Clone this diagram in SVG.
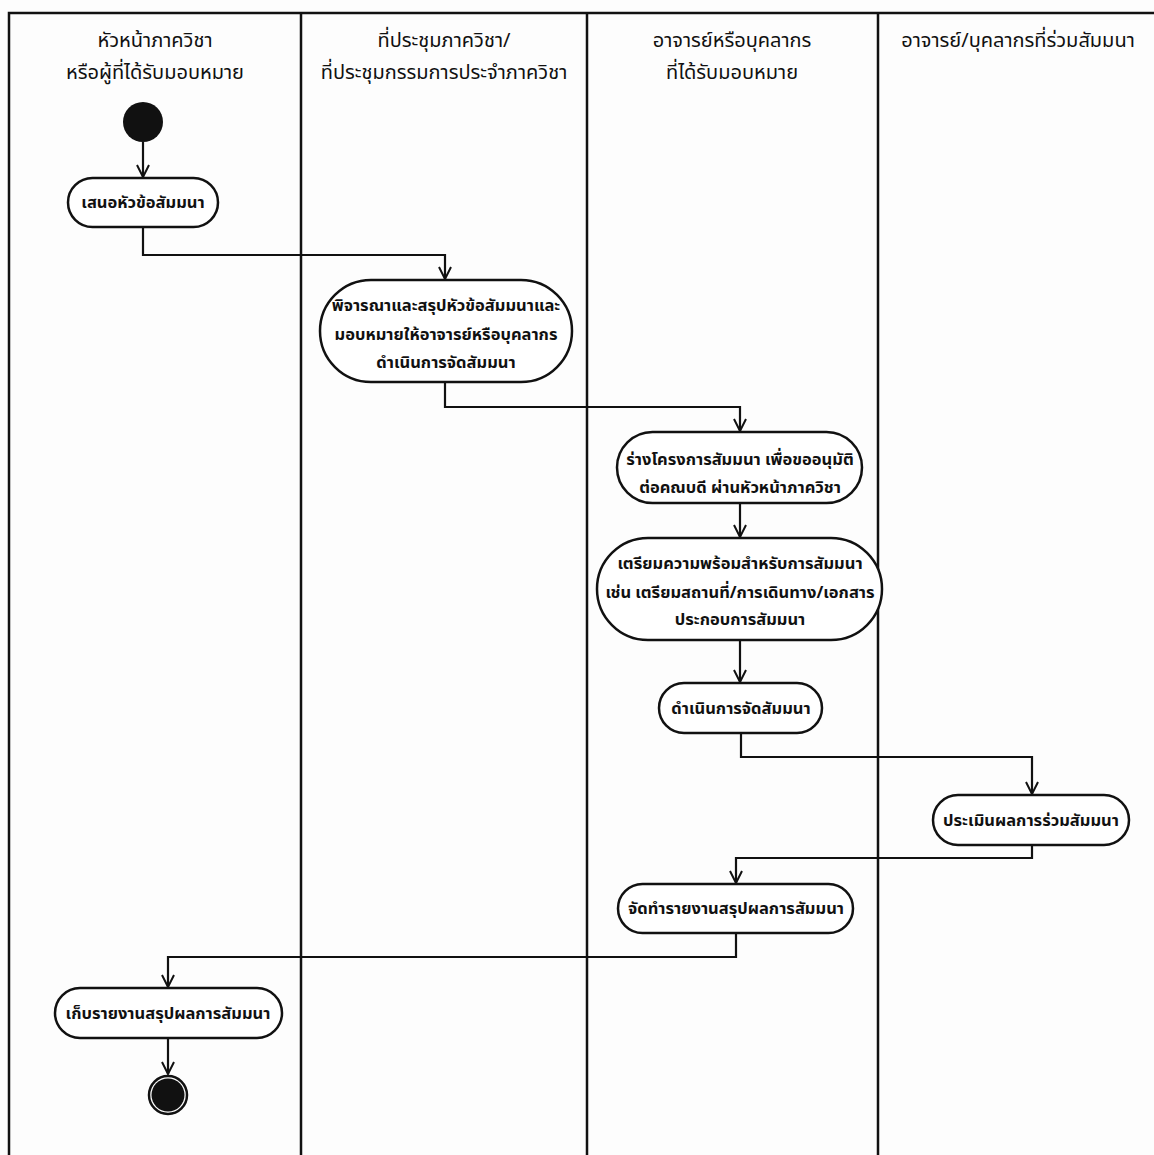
<svg xmlns="http://www.w3.org/2000/svg" width="1154" height="1155" viewBox="0 0 1154 1155">
<style>
.bg{fill:#fdfdfd}
.lane{stroke:#111;stroke-width:2.5;fill:none}
.hdr{font-family:"Noto Sans Thai","Tahoma","Noto Sans",sans-serif;font-size:20px;fill:#111;text-anchor:middle}
.node rect{fill:#fff;stroke:#111;stroke-width:2.5}
.node text{font-family:"Noto Sans Thai","Tahoma","Noto Sans",sans-serif;font-size:16.5px;font-weight:bold;fill:#111;text-anchor:middle}
.conn path{fill:none;stroke:#111;stroke-width:2.2;marker-end:url(#arr)}
</style>
<defs>
<marker id="arr" viewBox="0 0 14 14" refX="13" refY="7" markerWidth="14" markerHeight="14" markerUnits="userSpaceOnUse" orient="auto">
<path d="M1,1 L13,7 L1,13" fill="none" stroke="#111" stroke-width="2"/>
</marker>
</defs>
<rect class="bg" x="0" y="0" width="1154" height="1155"/>
<g id="lanes">
<path class="lane" d="M9,1155 V13 H1154"/>
<line class="lane" x1="301" y1="13" x2="301" y2="1155"/>
<line class="lane" x1="587" y1="13" x2="587" y2="1155"/>
<line class="lane" x1="878" y1="13" x2="878" y2="1155"/>
<text class="hdr" x="155" y="47">หัวหน้าภาควิชา</text>
<text class="hdr" x="155" y="79">หรือผู้ที่ได้รับมอบหมาย</text>
<text class="hdr" x="444" y="47">ที่ประชุมภาควิชา/</text>
<text class="hdr" x="444" y="79">ที่ประชุมกรรมการประจำภาควิชา</text>
<text class="hdr" x="732" y="47">อาจารย์หรือบุคลากร</text>
<text class="hdr" x="732" y="79">ที่ได้รับมอบหมาย</text>
<text class="hdr" x="1018" y="47">อาจารย์/บุคลากรที่ร่วมสัมมนา</text>
</g>
<g class="conn" id="connectors">
<path d="M143,142 V177"/>
<path d="M143,227 V255 H445 V279"/>
<path d="M445,382 V407 H740 V431"/>
<path d="M740,503 V537"/>
<path d="M740,640 V682"/>
<path d="M741,733 V757 H1032 V794"/>
<path d="M1032,845 V858 H736 V883"/>
<path d="M736,933 V957 H168 V987"/>
<path d="M168,1038 V1074"/>
</g>
<g id="start"><circle cx="143" cy="122" r="20" fill="#111"/></g>
<g id="n1" class="node"><rect x="68" y="178" width="150" height="49" rx="24.5"/><text x="143" y="208">เสนอหัวข้อสัมมนา</text></g>
<g id="n2" class="node"><rect x="320" y="280" width="252" height="102" rx="51"/>
<text x="446" y="311">พิจารณาและสรุปหัวข้อสัมมนาและ</text>
<text x="446" y="340">มอบหมายให้อาจารย์หรือบุคลากร</text>
<text x="446" y="368">ดำเนินการจัดสัมมนา</text></g>
<g id="n3" class="node"><rect x="617" y="432" width="245" height="71" rx="35.5"/>
<text x="740" y="465">ร่างโครงการสัมมนา เพื่อขออนุมัติ</text>
<text x="740" y="493">ต่อคณบดี ผ่านหัวหน้าภาควิชา</text></g>
<g id="n4" class="node"><rect x="597" y="538" width="285" height="102" rx="51"/>
<text x="740" y="569">เตรียมความพร้อมสำหรับการสัมมนา</text>
<text x="740" y="598">เช่น เตรียมสถานที่/การเดินทาง/เอกสาร</text>
<text x="740" y="625">ประกอบการสัมมนา</text></g>
<g id="n5" class="node"><rect x="659" y="683" width="163" height="50" rx="25"/><text x="741" y="714">ดำเนินการจัดสัมมนา</text></g>
<g id="n6" class="node"><rect x="933" y="795" width="196" height="50" rx="25"/><text x="1031" y="826">ประเมินผลการร่วมสัมมนา</text></g>
<g id="n7" class="node"><rect x="618" y="884" width="235" height="49" rx="24.5"/><text x="736" y="914">จัดทำรายงานสรุปผลการสัมมนา</text></g>
<g id="n8" class="node"><rect x="55" y="988" width="227" height="50" rx="25"/><text x="168" y="1019">เก็บรายงานสรุปผลการสัมมนา</text></g>
<g id="end"><circle cx="168" cy="1095" r="19" fill="none" stroke="#111" stroke-width="2.5"/><circle cx="168" cy="1095" r="16.5" fill="#111"/></g>
</svg>
